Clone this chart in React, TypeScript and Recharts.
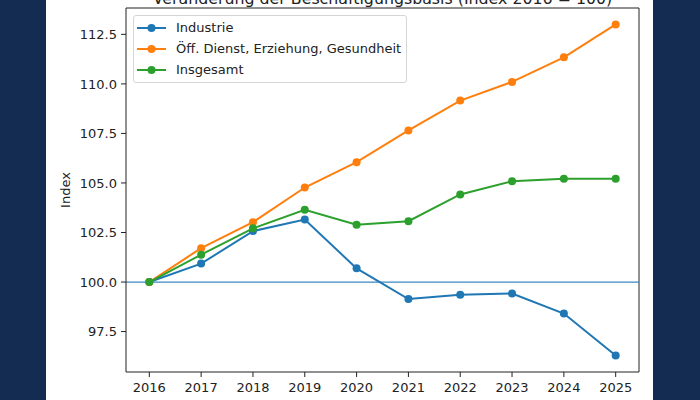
import React from 'react';
import { LineChart, Line, XAxis, YAxis, Legend, ReferenceLine } from 'recharts';

const years = [2016, 2017, 2018, 2019, 2020, 2021, 2022, 2023, 2024, 2025];
const industrie = [100, 100.93, 102.57, 103.15, 100.69, 99.14, 99.36, 99.42, 98.41, 96.29];
const oeffentlich = [100, 101.71, 103.02, 104.77, 106.05, 107.65, 109.16, 110.1, 111.34, 113.0];
const insgesamt = [100, 101.38, 102.71, 103.65, 102.89, 103.07, 104.42, 105.09, 105.21, 105.21];
const seriesNames = ['Industrie', 'Öff. Dienst, Erziehung, Gesundheit', 'Insgesamt'];
const yTicks = [97.5, 100, 102.5, 105, 107.5, 110, 112.5];

const xDomain = [2015.55, 2025.45];
const yDomain = [95.46, 113.83];

const data = years.map((year, i) => ({
  year,
  industrie: industrie[i],
  oeffentlich: oeffentlich[i],
  insgesamt: insgesamt[i],
}));

const FONT = '"DejaVu Sans", sans-serif';

function LegendBox({ payload }: any) {
  return (
    <div
      style={{
        border: '1px solid #d6d6d6',
        borderRadius: 3,
        background: 'rgba(255,255,255,0.8)',
        padding: '1px 0 2px 0',
        fontFamily: FONT,
        fontSize: 13,
        color: '#222',
        textAlign: 'left',
      }}
    >
      {(payload || []).map((p: any) => (
        <div key={p.value} style={{ display: 'flex', alignItems: 'center', height: 21 }}>
          <svg width={30} height={12} style={{ marginLeft: 3, marginRight: 9 }}>
            <line x1={0} y1={6} x2={29} y2={6} stroke={p.color} strokeWidth={2} />
            <circle cx={14.5} cy={6} r={4} fill={p.color} />
          </svg>
          <span>{p.value}</span>
        </div>
      ))}
    </div>
  );
}

export default function App() {
  return (
    <div style={{ position: 'absolute', left: 0, top: 0, width: 700, height: 400, background: '#142b52', overflow: 'hidden' }}>
      <div style={{ position: 'absolute', left: 46, top: 0, width: 607, height: 400, background: '#fff' }} />
      <div
        style={{
          position: 'absolute',
          left: 126,
          width: 513,
          top: -9,
          lineHeight: '16px',
          textAlign: 'center',
          fontFamily: FONT,
          fontSize: 15.8,
          color: '#222',
          whiteSpace: 'nowrap',
        }}
      >
        Veränderung der Beschäftigungsbasis (Index 2016 = 100)
      </div>
      <div style={{ position: 'absolute', left: 0, top: 0 }}>
        <LineChart width={700} height={400} data={data} margin={{ top: 8, right: 61, bottom: 0, left: 0 }}>
          <XAxis
            dataKey="year"
            type="number"
            domain={xDomain}
            ticks={years}
            allowDataOverflow
            height={28}
            tickSize={5}
            tickMargin={6}
            stroke="#222"
            tick={{ fill: '#222', fontSize: 13, fontFamily: FONT }}
          />
          <YAxis
            type="number"
            domain={yDomain}
            ticks={yTicks}
            allowDataOverflow
            width={126}
            tickSize={5}
            tickMargin={4}
            stroke="#222"
            tickFormatter={(v: number) => v.toFixed(1)}
            tick={{ fill: '#222', fontSize: 13, fontFamily: FONT }}
            label={{ value: 'Index', angle: -90, position: 'center', dx: 2, style: { fill: '#222', fontSize: 13, fontFamily: FONT } }}
          />
          <ReferenceLine x={xDomain[1]} stroke="#222" strokeWidth={1} />
          <ReferenceLine y={yDomain[1]} stroke="#222" strokeWidth={1} />
          <ReferenceLine y={100} stroke="#3a87c0" strokeWidth={1.2} />
          <Legend
            content={<LegendBox />}
            layout="vertical"
            align="center"
            verticalAlign="middle"
            itemSorter={(item: any) => seriesNames.indexOf(item.value)}
            wrapperStyle={{ position: 'absolute', left: 133, top: 15, width: 274 }}
          />
          <Line dataKey="industrie" name={seriesNames[0]} stroke="#1f77b4" strokeWidth={2} dot={{ r: 4, fill: '#1f77b4', stroke: '#1f77b4', strokeWidth: 0 }} isAnimationActive={false} />
          <Line dataKey="oeffentlich" name={seriesNames[1]} stroke="#ff7f0e" strokeWidth={2} dot={{ r: 4, fill: '#ff7f0e', stroke: '#ff7f0e', strokeWidth: 0 }} isAnimationActive={false} />
          <Line dataKey="insgesamt" name={seriesNames[2]} stroke="#2ca02c" strokeWidth={2} dot={{ r: 4, fill: '#2ca02c', stroke: '#2ca02c', strokeWidth: 0 }} isAnimationActive={false} />
        </LineChart>
      </div>
    </div>
  );
}
